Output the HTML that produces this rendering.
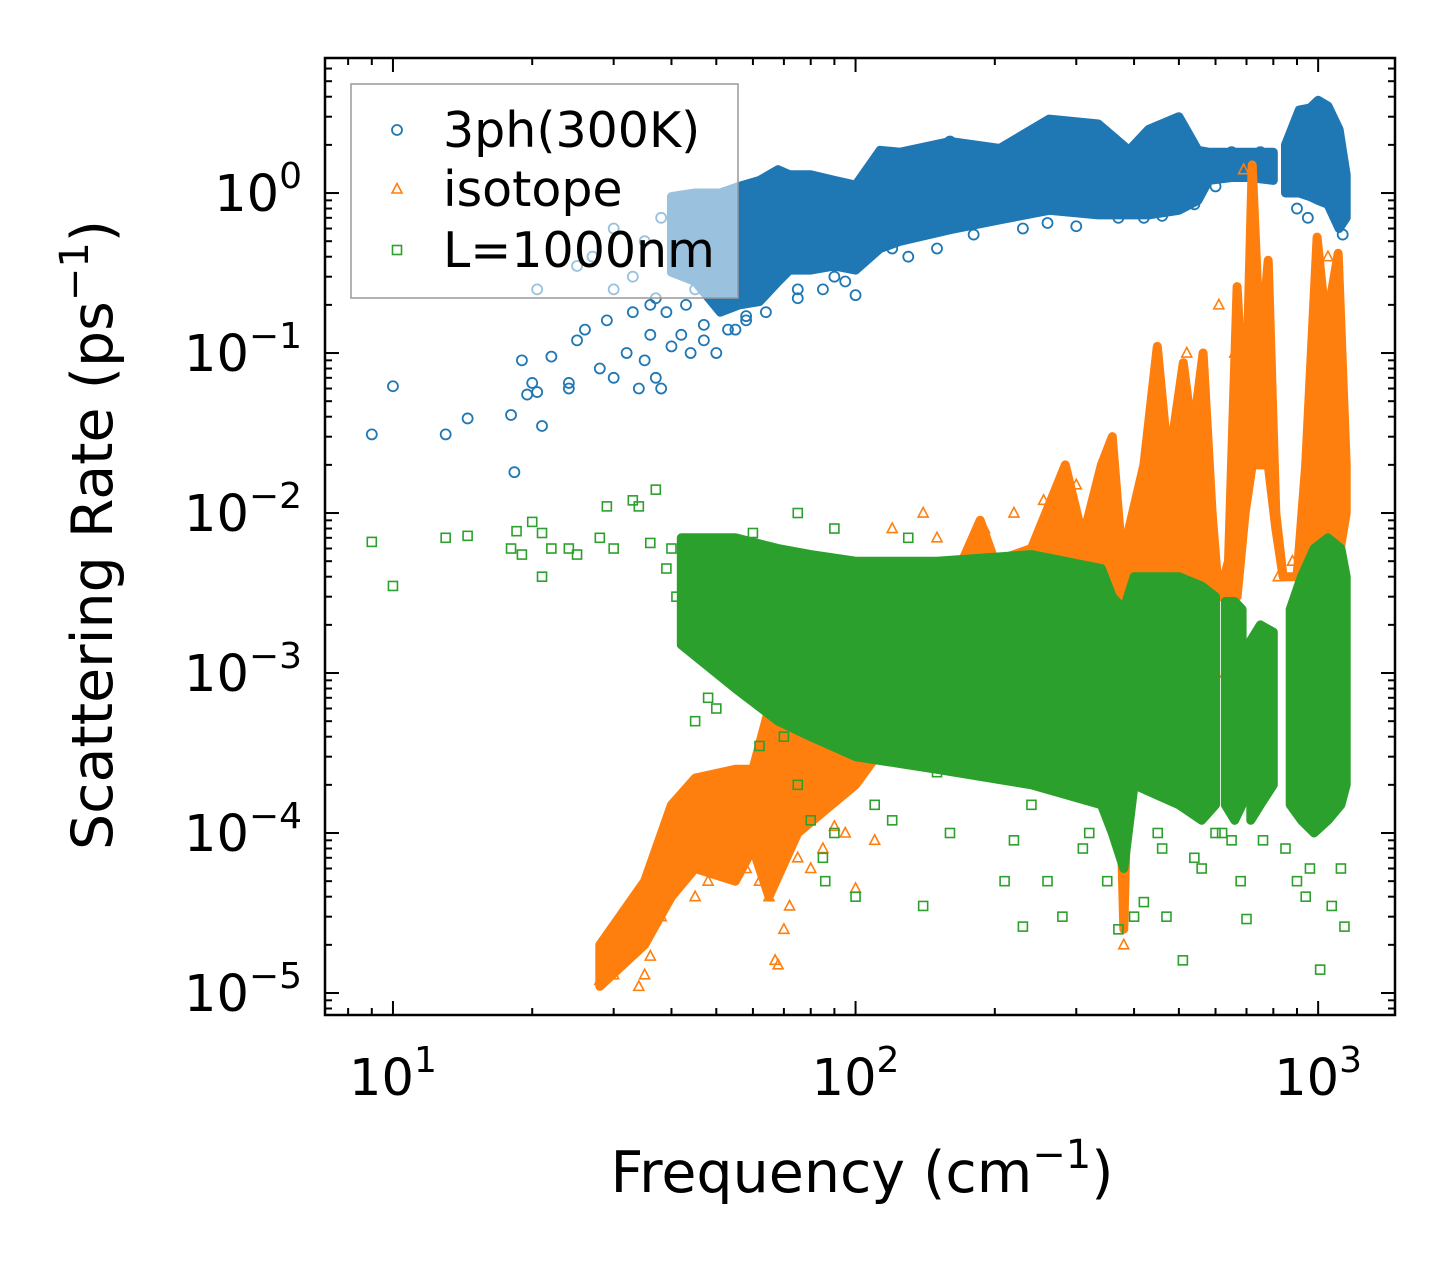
<!DOCTYPE html>
<html><head><meta charset="utf-8"><style>
html,body{margin:0;padding:0;background:#fff;}
svg{display:block;font-family:"DejaVu Sans","Liberation Sans",sans-serif;}
</style></head><body>
<svg id="chart" width="1455" height="1265" viewBox="0 0 1455 1265" xmlns="http://www.w3.org/2000/svg">
<rect width="1455" height="1265" fill="#fff"/>
<defs><clipPath id="plotclip"><rect x="325" y="58" width="1070" height="957"/></clipPath></defs>
<g id="marks" clip-path="url(#plotclip)"></g>
<g id="axes"></g>
</svg>
<script>
// ---- data: dense-core envelopes (frequency, lower rate, upper rate) ----
const blueBandF  = [40,45,51,56,62,68,72,80,90,100,113,125,160,205,262,335,390,430,500,550,580,650,710,800];
const blueBandLo = [0.32,0.28,0.18,0.2,0.21,0.28,0.33,0.33,0.35,0.33,0.45,0.5,0.59,0.68,0.78,0.73,0.73,0.73,0.78,0.9,1.2,1.25,1.25,1.2];
const blueBandHi = [0.95,1.0,1.0,1.1,1.2,1.4,1.3,1.3,1.2,1.12,1.85,1.8,2.1,1.9,2.9,2.7,1.85,2.5,3.0,1.85,1.8,1.8,1.8,1.8];
const blueBand2F  = [850,910,960,1000,1050,1110,1150];
const blueBand2Lo = [1.0,1.0,0.95,0.9,0.85,0.6,0.7];
const blueBand2Hi = [2.0,3.3,3.4,3.8,3.5,2.5,1.3];

const orangeBandF  = [28,35,40,45,55,60,65,75,100,150,170,186,200,240,284,310,340,359,370,380,390,420,449,475,511,535,564,590,610,640,668,695,720,750,780,810,840,900,940,995,1040,1105,1150];
const orangeBandLo = [1.1e-5,2e-5,4e-5,6e-5,5e-5,8e-5,4e-5,1e-4,2e-4,1e-3,2e-3,3e-3,3e-3,3e-3,3e-3,3e-3,2e-3,2e-3,5e-4,2.5e-5,5e-4,3e-3,3e-3,3e-3,3e-3,3e-3,3e-3,3e-3,3e-3,3e-3,3e-3,0.01,0.02,0.02,0.02,0.008,0.004,0.004,0.005,0.005,0.005,0.005,0.01];
const orangeBandHi = [2e-5,5e-5,1.5e-4,2.2e-4,2.5e-4,2.5e-4,6e-4,8e-4,1.5e-3,4e-3,5e-3,9e-3,5e-3,6e-3,0.02,7e-3,0.02,0.03,0.01,4e-3,0.008,0.02,0.11,0.02,0.087,0.03,0.1,0.01,3e-3,5e-3,0.26,0.03,1.5,0.1,0.38,0.01,0.004,0.004,0.02,0.53,0.15,0.42,0.02];

const greenBandF  = [42,55,68,80,100,150,240,340,359,380,400,500,560,600];
const greenBandLo = [1.5e-3,8e-4,5e-4,4e-4,3e-4,2.5e-4,2e-4,1.5e-4,1e-4,6e-5,2e-4,1.5e-4,1.2e-4,1.5e-4];
const greenBandHi = [7e-3,7e-3,6e-3,5.5e-3,5e-3,5e-3,5.5e-3,4.5e-3,3e-3,2.5e-3,4e-3,4e-3,3.5e-3,3e-3];
const greenBand2F  = [630,660,685];
const greenBand2Lo = [1.5e-4,1.2e-4,1.5e-4];
const greenBand2Hi = [2.8e-3,2.8e-3,2.5e-3];
const greenBand3F  = [715,750,800];
const greenBand3Lo = [1.2e-4,1.5e-4,2e-4];
const greenBand3Hi = [1.6e-3,2e-3,1.8e-3];
const greenBand4F  = [870,920,980,1050,1120,1150];
const greenBand4Lo = [1.5e-4,1.2e-4,1e-4,1.2e-4,1.5e-4,2e-4];
const greenBand4Hi = [2.5e-3,4e-3,6e-3,7e-3,6e-3,4e-3];

// ---- data: individual scatter points ----
const blueF = [9,10,13,14.5,18,18.3,19,19.5,20,20.5,21,20.5,22,24,24,25,26,28,29,30,32,33,34,35,36,37,38,40,42,44,47,50,55,58,33,35,38,30,27,25,45,100,90,140,160,330,540,1130,1000,30,36,42,48,52,65,70,75,85,120,180,260,290,420,480,600,650,750,900,950,1050,1100,37,39,43,47,53,58,64,75,95,130,150,230,300,370,460];
const blueR = [0.031,0.062,0.031,0.039,0.041,0.018,0.09,0.055,0.065,0.057,0.035,0.25,0.095,0.065,0.06,0.12,0.14,0.08,0.16,0.07,0.1,0.18,0.06,0.09,0.13,0.07,0.06,0.11,0.13,0.1,0.12,0.1,0.14,0.16,0.3,0.5,0.7,0.6,0.4,0.35,0.25,0.23,0.3,0.6,2.1,0.8,0.85,0.55,3.5,0.25,0.2,0.95,0.95,1.0,1.2,1.3,0.22,0.25,0.45,0.55,0.65,2.7,0.7,2.7,1.1,1.8,1.8,0.8,0.7,3.2,0.7,0.22,0.18,0.2,0.15,0.14,0.17,0.18,0.25,0.28,0.4,0.45,0.6,0.62,0.7,0.72];

const orangeF = [28,30,32,35,34,36,38,67,68,70,72,100,110,380,600,1000,560,1050,1130,690,120,140,150,190,220,255,45,55,65,75,85,95,130,170,300,330,470,520,610,660,720,780,820,880,1020,1080,1120,42,48,58,62,80,90];
const orangeR = [1.2e-5,1.3e-5,2e-5,1.3e-5,1.1e-5,1.7e-5,3e-5,1.6e-5,1.5e-5,2.5e-5,3.5e-5,4.5e-5,9e-5,2e-5,1e-3,1.5e-4,4e-3,0.4,0.02,1.4,0.008,0.01,0.007,0.008,0.01,0.012,4e-5,6e-5,4e-5,7e-5,8e-5,1e-4,1e-3,2e-3,0.015,0.012,0.03,0.1,0.2,0.1,0.4,0.2,0.004,0.005,0.06,0.08,0.005,7e-5,5e-5,6e-5,5e-5,6e-5,1.1e-4];

const greenF = [9,10,13,14.5,18,18.5,19,20,21,21,22,24,25,28,29,30,33,34,37,40,45,48,50,55,60,62,75,80,85,86,90,95,100,110,140,150,180,210,220,230,260,280,310,350,400,420,450,470,510,560,600,700,900,960,1010,1070,1140,370,650,110,60,75,90,130,1050,120,160,240,320,460,540,620,680,760,850,940,1120,36,39,41,43,46,52,57,63,70];
const greenR = [0.0066,0.0035,0.007,0.0072,0.006,0.0077,0.0055,0.0088,0.004,0.0075,0.006,0.006,0.0055,0.007,0.011,0.006,0.012,0.011,0.014,0.006,0.0005,0.0007,0.0006,0.001,0.0008,0.00035,0.0002,0.00012,0.00007,0.00005,0.0001,0.0009,0.00004,0.00015,0.000035,0.00024,0.00024,0.00005,0.00009,0.000026,0.00005,0.00003,0.00008,0.00005,0.00003,0.000037,0.0001,0.00003,0.000016,0.00006,0.0001,0.000029,0.00005,0.00006,0.000014,0.000035,0.000026,0.000025,0.00009,0.0015,0.0075,0.01,0.008,0.007,0.0002,0.00012,0.0001,0.00015,0.0001,0.00008,0.00007,0.0001,0.00005,0.00009,0.00008,0.00004,0.00006,0.0065,0.0045,0.003,0.0025,0.0018,0.0011,0.0012,0.0007,0.0004];

const xTickVals = [10,100,1000];
const xTickExp = ["1","2","3"];
const yTickVals = [1,0.1,0.01,0.001,0.0001,0.00001];
const yTickExp = ["0","\u22121","\u22122","\u22123","\u22124","\u22125"];

// ---- axes ----
const X0=325,X1=1395,Y0=58,Y1=1015;
const xLogMin=Math.log10(7.13), xLogMax=Math.log10(1466);
const yLogMin=-5.1375, yLogMax=0.844;
const xs=f=>X0+(Math.log10(f)-xLogMin)/(xLogMax-xLogMin)*(X1-X0);
const ys=r=>Y1-(Math.log10(r)-yLogMin)/(yLogMax-yLogMin)*(Y1-Y0);
const NS="http://www.w3.org/2000/svg";
const marks=document.getElementById('marks');
const axes=document.getElementById('axes');
function mk(tag,attrs,parent){const e=document.createElementNS(NS,tag);for(const k in attrs)e.setAttribute(k,attrs[k]);parent.appendChild(e);return e;}

function band(F,Lo,Hi,color,name){
  let pts=[];
  for(let i=0;i<F.length;i++)pts.push(xs(F[i]).toFixed(1)+','+ys(Hi[i]).toFixed(1));
  for(let i=F.length-1;i>=0;i--)pts.push(xs(F[i]).toFixed(1)+','+ys(Lo[i]).toFixed(1));
  const p=mk('polygon',{points:pts.join(' '),fill:color,stroke:color,'stroke-width':9,'stroke-linejoin':'round'},marks);
  
  
}
function marker(kind,cx,cy,color,g){
  let e;
  if(kind==='o') e=mk('circle',{cx:cx,cy:cy,r:5,fill:'none',stroke:color,'stroke-width':1.8},g);
  else if(kind==='^') e=mk('polygon',{points:`${cx},${cy-5.5} ${cx-5},${cy+4} ${cx+5},${cy+4}`,fill:'none',stroke:color,'stroke-width':1.6},g);
  else e=mk('rect',{x:cx-4.5,y:cy-4.5,width:9,height:9,fill:'none',stroke:color,'stroke-width':1.6},g);
  return e;
}
function points(F,R,kind,color,name){
  const g=mk('g',{},marks);
  
  
  for(let i=0;i<F.length;i++){
    const e=marker(kind,xs(F[i]),ys(R[i]),color,g);
    
    
  }
}
const BLUE='#1f77b4',ORANGE='#ff7f0e',GREEN='#2ca02c';
band(blueBandF,blueBandLo,blueBandHi,BLUE,'3ph-dense-band');
band(blueBand2F,blueBand2Lo,blueBand2Hi,BLUE,'3ph-dense-band-high');
points(blueF,blueR,'o',BLUE,'3ph-series');
band(orangeBandF,orangeBandLo,orangeBandHi,ORANGE,'isotope-dense-band');
points(orangeF,orangeR,'^',ORANGE,'isotope-series');
band(greenBandF,greenBandLo,greenBandHi,GREEN,'boundary-dense-band');
band(greenBand2F,greenBand2Lo,greenBand2Hi,GREEN,'boundary-dense-band-2');
band(greenBand3F,greenBand3Lo,greenBand3Hi,GREEN,'boundary-dense-band-3');
band(greenBand4F,greenBand4Lo,greenBand4Hi,GREEN,'boundary-dense-band-4');
points(greenF,greenR,'s',GREEN,'boundary-series');

// frame
const fr=mk('rect',{x:X0,y:Y0,width:X1-X0,height:Y1-Y0,fill:'none',stroke:'#000','stroke-width':2.5},axes);


// ticks
for(let d=0;d<=3;d++){for(let m=1;m<=9;m++){const f=m*Math.pow(10,d);const x=xs(f);if(x<X0||x>X1)continue;const L=m===1?14:7;
  mk('line',{x1:x,y1:Y1,x2:x,y2:Y1-L,stroke:'#000','stroke-width':2},axes);
  mk('line',{x1:x,y1:Y0,x2:x,y2:Y0+L,stroke:'#000','stroke-width':2},axes);}}
for(let d=-6;d<=1;d++){for(let m=1;m<=9;m++){const r=m*Math.pow(10,d);const y=ys(r);if(y<Y0||y>Y1)continue;const L=m===1?14:7;
  mk('line',{x1:X0,y1:y,x2:X0+L,y2:y,stroke:'#000','stroke-width':2},axes);
  mk('line',{x1:X1,y1:y,x2:X1-L,y2:y,stroke:'#000','stroke-width':2},axes);}}
// tick labels
for(let i=0;i<xTickVals.length;i++){
  const t=mk('text',{x:xs(xTickVals[i]),y:1095,'font-size':51,'text-anchor':'middle',fill:'#000'},axes);
  
  
  t.innerHTML='10<tspan dy="-23" font-size="36">'+xTickExp[i]+'</tspan>';
}
for(let i=0;i<yTickVals.length;i++){
  const t=mk('text',{x:302,y:ys(yTickVals[i])+18,'font-size':51,'text-anchor':'end',fill:'#000'},axes);
  
  
  t.innerHTML='10<tspan dy="-23" font-size="36">'+yTickExp[i]+'</tspan>';
}
// axis titles
const xt=mk('text',{x:862,y:1192,'font-size':57,'text-anchor':'middle',fill:'#000'},axes);


xt.innerHTML='Frequency (cm<tspan dy="-24" font-size="40">\u22121</tspan><tspan dy="24">)</tspan>';
const yt=mk('text',{x:0,y:0,'font-size':57,'text-anchor':'middle',fill:'#000',transform:'translate(112,535) rotate(-90)'},axes);


yt.innerHTML='Scattering Rate (ps<tspan dy="-24" font-size="40">\u22121</tspan><tspan dy="24">)</tspan>';
// legend
const lg=mk('g',{},axes);


mk('rect',{x:351,y:84,width:387,height:214,fill:'#fff','fill-opacity':0.55,stroke:'#999','stroke-width':1.5},lg);
const labs=['3ph(300K)','isotope','L=1000nm'],kinds=['o','^','s'],cols=[BLUE,ORANGE,GREEN],ly=[130,189,250];
for(let i=0;i<3;i++){
  const e=marker(kinds[i],397,ly[i],cols[i],lg);
  
  
  const t=mk('text',{x:443,y:ly[i]+17,'font-size':49,fill:'#000'},lg);
  
  
  t.textContent=labs[i];
}
</script>
</body></html>
